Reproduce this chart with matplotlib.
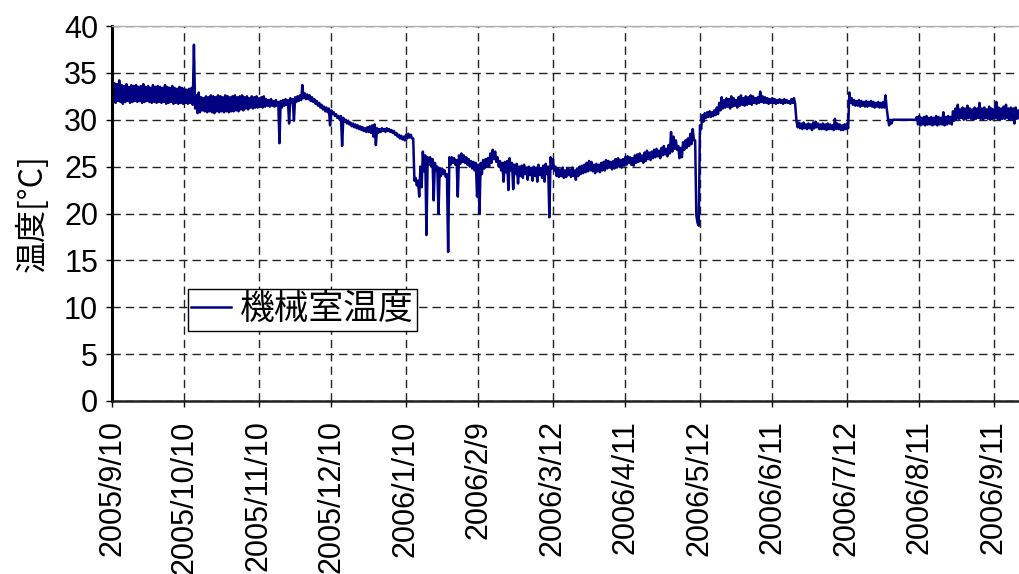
import datetime
import numpy as np
import matplotlib
matplotlib.use("Agg")
import matplotlib.pyplot as plt
import matplotlib.dates as mdates

plt.rcParams['lines.scale_dashes'] = False

# daily readings (max, min) of machine-room temperature, one pair per day from 2005/9/10
start = datetime.date(2005, 9, 10)

day_max = [
    33.7, 33.9, 33.8, 34.2, 33.7, 33.6, 33.8, 33.5, 33.7, 33.6,
    33.7, 33.5, 33.6, 33.8, 33.5, 33.6, 33.4, 33.7, 33.5, 33.6,
    33.5, 33.4, 33.7, 33.5, 33.4, 33.6, 33.4, 33.3, 33.5, 33.4,
    33.3, 33.2, 33.3, 33.4, 38.0, 32.6, 32.9, 32.4, 32.3, 32.5,
    32.4, 32.6, 32.5, 32.4, 32.6, 32.5, 32.4, 32.6, 32.5, 32.4,
    32.5, 32.6, 32.4, 32.5, 32.6, 32.4, 32.5, 32.3, 32.5, 32.4,
    32.5, 32.3, 32.4, 32.5, 32.2, 32.1, 32.2, 32.0, 32.1, 31.9,
    32.0, 32.1, 32.2, 32.1, 32.3, 32.2, 32.4, 32.5, 32.6, 33.7,
    32.8, 32.7, 32.6, 32.4, 32.2, 32.0, 31.8, 31.6, 31.4, 31.3,
    31.2, 31.0, 30.8, 30.6, 30.4, 30.4, 30.2, 30.0, 29.9, 29.7,
    29.6, 29.5, 29.4, 29.3, 29.2, 29.1, 29.2, 29.3, 29.4, 29.5,
    29.1, 29.0, 29.1, 29.0, 29.1, 29.0, 28.9, 28.8, 28.6, 28.4,
    28.3, 28.2, 28.4, 28.5, 28.4, 28.0, 23.8, 23.5, 25.0, 26.6,
    26.2, 26.0, 26.0, 25.8, 25.4, 25.0, 24.8, 24.8, 24.6, 24.2,
    26.0, 26.0, 25.9, 25.7, 26.2, 26.4, 26.2, 26.0, 25.8, 25.6,
    25.5, 25.4, 25.2, 25.4, 25.7, 25.8, 25.9, 26.4, 26.8, 26.6,
    26.0, 25.6, 25.4, 25.5, 25.6, 25.9, 25.4, 25.2, 25.3, 25.0,
    25.1, 25.2, 24.9, 25.0, 24.8, 25.0, 24.9, 25.2, 24.8, 25.1,
    25.3, 25.0, 26.0, 25.8, 25.0, 24.8, 24.7, 24.9, 24.6, 24.8,
    24.7, 24.9, 24.6, 24.8, 25.0, 25.1, 25.2, 25.4, 25.6, 25.5,
    25.2, 25.3, 25.2, 25.4, 25.5, 25.7, 25.6, 25.5, 25.6, 25.8,
    25.9, 25.7, 25.8, 26.0, 26.1, 26.0, 25.9, 26.2, 26.3, 26.4,
    26.2, 26.5, 26.7, 26.5, 26.6, 26.8, 26.9, 26.7, 27.0, 27.2,
    26.9, 27.3, 28.7, 28.2, 27.8, 27.2, 27.0, 27.6, 27.8, 28.0,
    28.5, 29.0, 27.8, 19.0, 29.4, 30.5, 30.7, 30.8, 30.9, 30.8,
    31.0, 31.3, 31.8, 32.4, 32.1, 32.3, 32.2, 32.5, 32.3, 32.1,
    32.4, 32.6, 32.3, 32.5, 32.4, 32.6, 32.5, 32.3, 32.4, 33.0,
    32.5, 32.4, 32.3, 32.2, 32.3, 32.2, 32.1, 32.2, 32.1, 32.2,
    32.1, 32.0, 32.2, 32.3, 30.0, 29.7, 29.6, 29.7, 29.5, 29.6,
    29.5, 29.7, 29.8, 29.6, 29.5, 29.6, 29.5, 29.6, 29.5, 29.4,
    30.1, 29.6, 29.5, 29.4, 29.5, 29.6, 32.9, 32.3, 32.1, 32.0,
    32.1, 32.0, 31.9, 32.0, 31.9, 32.0, 31.9, 31.8, 31.9, 31.8,
    31.9, 32.6, 30.2, 30.0, 30.0, 30.0, 30.0, 30.0, 30.0, 30.0,
    30.0, 30.0, 30.0, 30.0, 30.3, 30.4, 30.2, 30.3, 30.4, 30.2,
    30.3, 30.2, 30.4, 30.3, 30.2, 30.8, 30.3, 30.4, 30.3, 30.9,
    31.2, 31.6, 31.1, 31.3, 31.2, 31.5, 31.2, 31.1, 31.3, 31.2,
    31.8, 31.2, 31.3, 31.1, 31.4, 31.2, 31.1, 31.9, 31.3, 31.2,
    31.4, 31.6, 31.2, 31.3, 31.2, 31.3, 31.0,
]

day_min = [
    31.9, 31.8, 32.0, 31.9, 31.7, 31.9, 32.0, 31.8, 31.9, 32.0,
    31.9, 32.0, 31.8, 31.9, 32.0, 31.9, 31.8, 31.9, 31.8, 31.9,
    31.8, 31.9, 31.7, 31.8, 31.9, 31.7, 31.8, 31.7, 31.8, 31.7,
    31.8, 31.7, 31.8, 31.6, 31.2, 30.7, 30.8, 31.0, 30.9, 30.8,
    30.9, 30.8, 30.7, 30.9, 30.8, 30.9, 30.8, 30.9, 30.8, 30.9,
    30.9, 31.0, 30.9, 31.1, 31.0, 31.2, 31.1, 31.3, 31.2, 31.3,
    31.3, 31.4, 31.3, 31.4, 31.5, 31.4, 31.5, 31.4, 31.5, 27.5,
    31.3, 31.5, 31.6, 29.6, 31.8, 29.9, 31.9, 32.0, 32.1, 32.3,
    32.2, 32.2, 32.0, 31.9, 31.7, 31.5, 31.3, 31.1, 30.9, 30.8,
    29.4, 30.6, 30.4, 30.2, 30.0, 27.2, 29.8, 29.6, 29.5, 29.3,
    29.2, 29.1, 29.0, 28.9, 28.8, 28.7, 28.7, 28.6, 28.2, 27.3,
    28.6, 28.7, 28.8, 28.7, 28.8, 28.7, 28.6, 28.4, 28.2, 28.0,
    27.9, 27.8, 28.0, 28.1, 28.0, 23.5, 23.0, 21.8, 22.8, 24.5,
    17.7, 25.2, 25.0, 21.4, 24.6, 20.0, 24.0, 24.2, 23.9, 15.9,
    25.2, 25.4, 25.2, 21.8, 25.3, 25.5, 25.4, 25.2, 25.0, 24.8,
    24.6, 21.8, 20.0, 24.2, 24.8, 25.0, 25.0, 25.4, 25.8, 25.5,
    25.0, 24.6, 23.4, 24.4, 22.5, 24.6, 22.6, 24.2, 23.2, 24.0,
    23.8, 24.2, 23.6, 24.1, 23.5, 24.0, 23.4, 24.1, 23.8, 23.4,
    24.2, 19.6, 24.8, 24.6, 24.0, 23.9, 24.0, 23.8, 23.9, 24.1,
    23.9, 24.0, 23.6, 24.0, 24.2, 24.3, 24.4, 24.5, 24.6, 24.5,
    24.3, 24.5, 24.4, 24.6, 24.6, 24.8, 24.9, 24.7, 24.8, 24.9,
    25.0, 24.9, 25.1, 25.2, 25.4, 25.2, 25.1, 25.4, 25.5, 25.6,
    25.4, 25.6, 25.8, 25.7, 25.9, 26.0, 26.1, 25.9, 26.2, 26.3,
    26.1, 26.4, 26.6, 26.9, 26.8, 25.9, 26.0, 26.8, 27.0, 27.2,
    27.4, 27.8, 19.8, 18.7, 29.0, 29.8, 30.2, 30.3, 30.3, 30.4,
    30.5, 30.6, 31.0, 31.2, 31.3, 31.4, 31.2, 31.4, 31.5, 31.3,
    31.5, 31.6, 31.5, 31.6, 31.7, 31.6, 31.8, 31.7, 31.8, 31.9,
    31.8, 31.8, 31.7, 31.8, 31.8, 31.7, 31.8, 31.8, 31.7, 31.8,
    31.8, 31.7, 31.8, 31.7, 29.2, 29.1, 29.0, 29.1, 29.0, 29.1,
    28.9, 29.1, 29.2, 29.0, 29.0, 29.0, 28.9, 29.0, 29.0, 28.9,
    29.0, 29.0, 28.9, 28.9, 29.0, 29.1, 31.8, 31.6, 31.5, 31.5,
    31.4, 31.5, 31.4, 31.4, 31.5, 31.4, 31.3, 31.4, 31.3, 31.3,
    31.3, 31.2, 29.4, 29.6, 30.0, 30.0, 30.0, 30.0, 30.0, 30.0,
    30.0, 30.0, 30.0, 30.0, 29.5, 29.4, 29.5, 29.4, 29.5, 29.5,
    29.4, 29.5, 29.4, 29.5, 29.5, 29.4, 29.5, 29.6, 29.5, 29.9,
    30.1, 30.1, 30.2, 30.0, 30.1, 30.2, 30.1, 30.0, 30.1, 30.2,
    30.1, 30.0, 30.2, 30.1, 30.0, 30.1, 30.2, 30.1, 30.0, 30.1,
    30.1, 30.2, 30.0, 30.1, 29.6, 30.1, 30.2,
]

tick_labels = ['2005/9/10', '2005/10/10', '2005/11/10', '2005/12/10',
               '2006/1/10', '2006/2/9', '2006/3/12', '2006/4/11',
               '2006/5/12', '2006/6/11', '2006/7/12', '2006/8/11',
               '2006/9/11']
y_ticks = [0, 5, 10, 15, 20, 25, 30, 35, 40]
series_name = '機械室温度'

# two readings per day: max at the start of the day, min at midday
base = mdates.date2num(start)
days = np.arange(len(day_max))
xs = base + np.column_stack([days, days + 0.5]).ravel()
ys = np.column_stack([day_max, day_min]).ravel()

fig = plt.figure(figsize=(10.19, 5.74), dpi=100)
ax = fig.add_axes([112 / 1019, 173 / 574, 907 / 1019, 375 / 574])

ax.plot(xs, ys, color='#000080', linewidth=1.8, label=series_name)

tick_pos = [mdates.date2num(datetime.datetime.strptime(t, '%Y/%m/%d')) for t in tick_labels]
ax.set_xticks(tick_pos)
ax.set_xticklabels(tick_labels, rotation=90, fontsize=22, family='Liberation Sans')
ax.set_xlim(base, base + 376.4)

ax.set_yticks(y_ticks)
ax.set_yticklabels([str(v) for v in y_ticks], fontsize=22, family='Liberation Sans')
ax.set_ylim(0, 40)

ax.set_ylabel('温度[°C]', fontsize=23, family=['Noto Sans CJK JP', 'DejaVu Sans'], labelpad=11)

ax.grid(True, color='#222222', linestyle=(0, (6, 3.6)), linewidth=1.0)
ax.set_axisbelow(True)

ax.tick_params(axis='both', direction='out', length=4, width=1, color='black')
ax.tick_params(axis='x', pad=10)
ax.tick_params(axis='y', pad=6)

ax.spines['left'].set_linewidth(2.2)
ax.spines['bottom'].set_linewidth(1.8)
ax.spines['bottom'].set_color('#202020')
ax.spines['top'].set_color('#b0b0b0')
ax.spines['top'].set_linewidth(1.0)
ax.spines['right'].set_visible(False)

leg = ax.legend(loc='upper left', bbox_to_anchor=(76 / 907, 1 - 263 / 375),
                prop={'family': ['Noto Sans CJK JP', 'DejaVu Sans'], 'size': 25},
                frameon=True, fancybox=False, framealpha=1, edgecolor='black',
                borderpad=0.1, handlelength=1.15, handletextpad=0.25,
                borderaxespad=0)
leg.get_frame().set_linewidth(1.0)

fig.savefig('out.png', dpi=100)
